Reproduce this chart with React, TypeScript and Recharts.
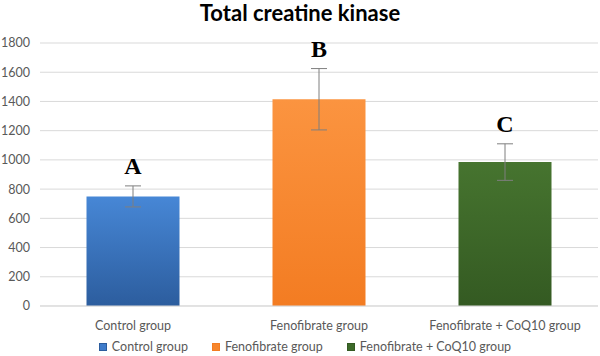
import React from 'react';
import { BarChart, Bar, XAxis, YAxis, CartesianGrid, ErrorBar, LabelList, Legend, Cell } from 'recharts';

const categories = ['Control group', 'Fenofibrate group', 'Fenofibrate + CoQ10 group'];
const means = [750, 1415, 985];
const errors = [72, 210, 125];
const letters = ['A', 'B', 'C'];
const yTicks = [0, 200, 400, 600, 800, 1000, 1200, 1400, 1600, 1800];
const colorTop = ['#4787d6', '#fb9440', '#46742f'];
const colorBottom = ['#2c5d9e', '#f37c22', '#345a22'];
const legendColors = ['#3f7ccb', '#f7862c', '#3d6a29'];

const data = categories.map((c, i) => ({ name: c, value: means[i], err: errors[i], letter: letters[i] }));

const FONT = 'Lato, "Open Sans", sans-serif';

const LetterLabel = (props: any) => {
  const { x, y, width, height, index, value } = props;
  const i = index as number;
  const errPx = (errors[i] * height) / means[i];
  return (
    <text
      x={x + width / 2}
      y={y - errPx - 12}
      textAnchor="middle"
      fontFamily='"Liberation Serif", "Times New Roman", serif'
      fontWeight="bold"
      fontSize={24}
      fill="#000"
    >
      {value}
    </text>
  );
};

const renderLegend = () => (
  <div
    style={{
      display: 'flex',
      justifyContent: 'center',
      gap: 24,
      fontFamily: FONT,
      fontSize: 12.5,
      color: '#595959',
      lineHeight: '16px',
      paddingLeft: 12,
    }}
  >
    {categories.map((c, i) => (
      <div key={c} style={{ display: 'flex', alignItems: 'center' }}>
        <span
          style={{
            display: 'inline-block',
            width: 6,
            height: 6,
            background: legendColors[i],
            border: '1px solid ' + colorBottom[i],
            marginRight: 5,
          }}
        />
        <span>{c}</span>
      </div>
    ))}
  </div>
);

export default function App() {
  return (
    <div style={{ position: 'absolute', left: 0, top: 0, width: 600, height: 356, background: '#fff' }}>
      <div
        style={{
          position: 'absolute',
          left: 0,
          top: 0,
          width: 600,
          textAlign: 'center',
          fontFamily: FONT,
          fontWeight: 'bold',
          fontSize: 22,
          lineHeight: '26px',
          color: '#000',
        }}
      >
        Total creatine kinase
      </div>
      <BarChart
        width={600}
        height={356}
        data={data}
        margin={{ top: 43, right: 2, left: 0, bottom: 1 }}
        barCategoryGap="25%"
      >
        <defs>
          {categories.map((c, i) => (
            <linearGradient key={c} id={'g' + i} x1="0" y1="0" x2="0" y2="1">
              <stop offset="0%" stopColor={colorTop[i]} />
              <stop offset="100%" stopColor={colorBottom[i]} />
            </linearGradient>
          ))}
        </defs>
        <CartesianGrid vertical={false} stroke="#d9d9d9" />
        <XAxis
          dataKey="name"
          axisLine={{ stroke: '#d9d9d9' }}
          tickLine={false}
          tick={{ fontFamily: FONT, fontSize: 12.5, fill: '#595959' }}
          height={33}
          tickMargin={9}
        />
        <YAxis
          domain={[0, 1800]}
          ticks={yTicks}
          width={40}
          axisLine={false}
          tickLine={false}
          tickMargin={4}
          tick={{ fontFamily: FONT, fontSize: 12.5, fill: '#595959' }}
        />
        <Legend verticalAlign="bottom" content={renderLegend} />
        <Bar dataKey="value" isAnimationActive={false} stroke="none">
          {data.map((d, i) => (
            <Cell key={d.name} fill={`url(#g${i})`} />
          ))}
          <ErrorBar dataKey="err" width={8} stroke="#7f7f7f" strokeWidth={1} />
          <LabelList dataKey="letter" content={LetterLabel} />
        </Bar>
      </BarChart>
    </div>
  );
}
